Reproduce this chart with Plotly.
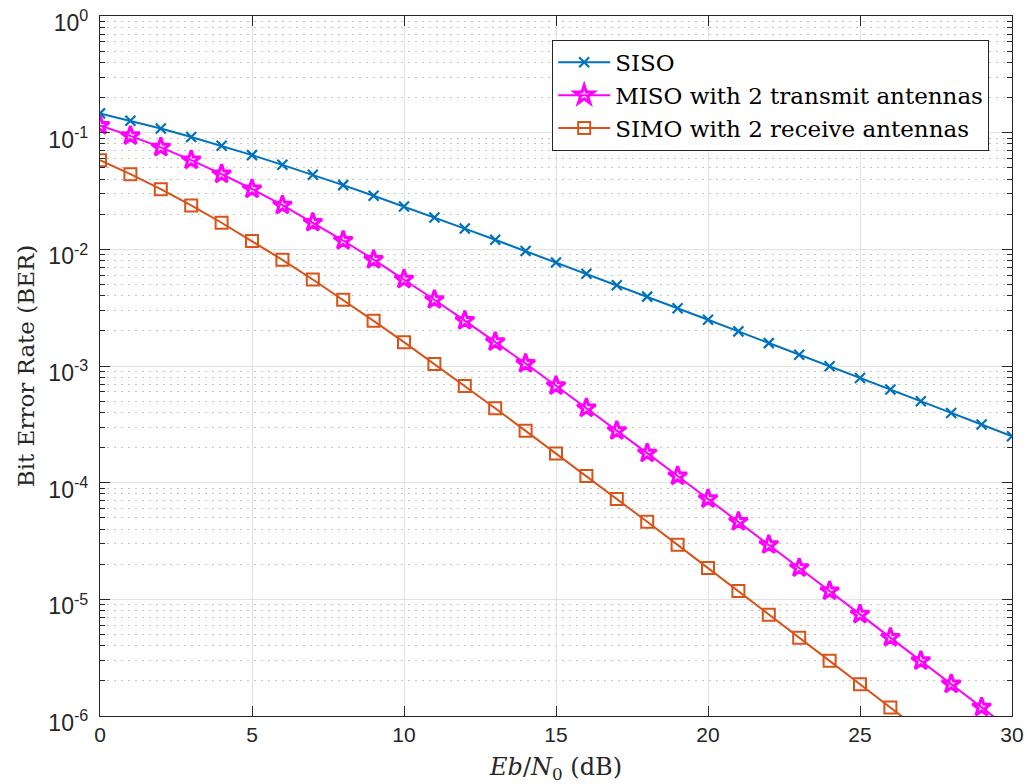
import plotly.graph_objects as go

ebn0_db = list(range(0, 31))

siso_ber = [0.1464, 0.1267, 0.1085, 0.0919, 0.0771, 0.0642, 0.0530, 0.0435, 0.0355, 0.0288,
            0.0233, 0.01875, 0.01506, 0.01208, 0.00966, 0.00772, 0.00617, 0.00492, 0.00393, 0.00313,
            0.00249, 0.00198, 0.00157, 0.00125, 0.000995, 0.000790, 0.000628, 0.000499, 0.000396,
            0.000315, 0.000250]

miso_ber = [0.1151, 0.0939, 0.0748, 0.0582, 0.0442, 0.0329, 0.0239, 0.0170, 0.0119, 0.00816,
            0.00553, 0.00370, 0.00245, 0.00161, 0.00105, 0.000677, 0.000436, 0.000279, 0.000179,
            0.000114, 7.26e-5, 4.64e-5, 2.94e-5, 1.86e-5, 1.18e-5, 7.43e-6, 4.70e-6, 2.97e-6,
            1.88e-6, 1.19e-6, 7.49e-7]

simo_ber = [0.0580, 0.0441, 0.0328, 0.0238, 0.0169, 0.0118, 0.00813, 0.00551, 0.00369, 0.00244,
            0.00160, 0.00104, 0.000674, 0.000434, 0.000278, 0.000178, 0.000114, 7.24e-5, 4.62e-5,
            2.93e-5, 1.86e-5, 1.18e-5, 7.39e-6, 4.68e-6, 2.97e-6, 1.87e-6, 1.18e-6, 7.47e-7,
            4.70e-7, 2.98e-7, 1.88e-7]

series_names = ["SISO", "MISO with 2 transmit antennas", "SIMO with 2 receive antennas"]

y_tick_vals = [1e-6, 1e-5, 1e-4, 1e-3, 1e-2, 1e-1, 1]
y_tick_text = ["10<sup>-6</sup>", "10<sup>-5</sup>", "10<sup>-4</sup>", "10<sup>-3</sup>",
               "10<sup>-2</sup>", "10<sup>-1</sup>", "10<sup>0</sup>"]
x_tick_vals = [0, 5, 10, 15, 20, 25, 30]

fig = go.Figure()
fig.add_trace(go.Scatter(
    x=ebn0_db, y=siso_ber, name=series_names[0], mode="lines+markers",
    line=dict(color="#0072BD", width=2),
    marker=dict(symbol="x-thin", size=10, line=dict(color="#0072BD", width=2.2)),
))
fig.add_trace(go.Scatter(
    x=ebn0_db, y=miso_ber, name=series_names[1], mode="lines+markers",
    line=dict(color="#FF00FF", width=2),
    marker=dict(symbol="star-open", size=14, color="#FF00FF", line=dict(color="#FF00FF", width=3)),
))
fig.add_trace(go.Scatter(
    x=ebn0_db, y=simo_ber, name=series_names[2], mode="lines+markers",
    line=dict(color="#D95319", width=2),
    marker=dict(symbol="square-open", size=12, color="#D95319", line=dict(color="#D95319", width=2)),
))

axis_color = "#262626"
serif = "DejaVu Serif, Liberation Serif"
fig.update_layout(
    width=1027, height=784,
    margin=dict(l=100, r=15, t=16, b=68, autoexpand=False),
    paper_bgcolor="white", plot_bgcolor="white",
    font=dict(family="Liberation Sans, Arial", size=21, color=axis_color),
    showlegend=True,
    legend=dict(
        x=0.975, y=0.966, xanchor="right", yanchor="top",
        bgcolor="white", bordercolor=axis_color, borderwidth=1,
        font=dict(family=serif, size=23, color="black"),
        itemwidth=52, tracegroupgap=0,
    ),
    xaxis=dict(
        range=[0, 30], tickvals=x_tick_vals, ticks="inside", ticklen=10, tickwidth=1,
        tickcolor=axis_color, showline=True, linecolor=axis_color, linewidth=1.3, mirror="ticks",
        showgrid=True, gridcolor="#E2E2E2", gridwidth=1, zeroline=False, automargin=False,
        tickfont=dict(size=21, color=axis_color), ticklabeloverflow="allow",
        title=dict(text="<i>Eb</i>/<i>N</i><sub>0</sub> (dB)", standoff=18,
                   font=dict(family=serif, size=24, color=axis_color)),
    ),
    yaxis=dict(
        type="log", range=[-6, 0], tickvals=y_tick_vals, ticktext=y_tick_text,
        ticks="inside", ticklen=10, tickwidth=1, tickcolor=axis_color,
        showline=True, linecolor=axis_color, linewidth=1.3, mirror="ticks",
        showgrid=True, gridcolor="#E2E2E2", gridwidth=1, zeroline=False, automargin=False,
        tickfont=dict(size=23, color=axis_color), ticklabeloverflow="allow",
        ticklabelstandoff=6, ticklabelshift=7,
        minor=dict(dtick="D1", ticks="inside", ticklen=5, tickcolor=axis_color,
                   showgrid=True, gridcolor="#C4C4C4", griddash="2px,5px", gridwidth=1),
        title=dict(text="Bit Error Rate (BER)", standoff=7,
                   font=dict(family=serif, size=23, color=axis_color)),
    ),
)

fig.write_html(
    "out.html",
    config={"displayModeBar": False},
    post_script="document.body.style.margin='0';document.body.style.overflow='hidden';",
)
